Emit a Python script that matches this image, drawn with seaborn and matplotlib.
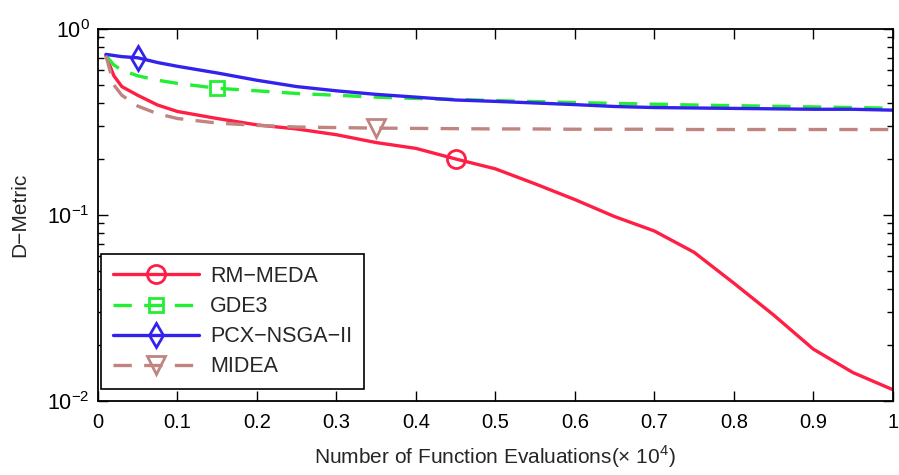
import matplotlib
matplotlib.use("Agg")
import matplotlib.pyplot as plt
from matplotlib.ticker import LogLocator, NullFormatter
import seaborn as sns

evals = [0.01, 0.02, 0.03, 0.05, 0.075, 0.1, 0.15, 0.2, 0.25, 0.3, 0.35, 0.4,
         0.45, 0.5, 0.55, 0.6, 0.65, 0.7, 0.75, 0.8, 0.85, 0.9, 0.95, 1.0]

rm_meda = [0.72, 0.56, 0.49, 0.44, 0.39, 0.36, 0.33, 0.305, 0.29, 0.27, 0.245, 0.228,
           0.20, 0.177, 0.147, 0.121, 0.098, 0.082, 0.063, 0.043, 0.029, 0.019, 0.0142, 0.0115]
gde3 = [0.72, 0.64, 0.60, 0.56, 0.53, 0.51, 0.48, 0.465, 0.45, 0.44, 0.43, 0.423,
        0.418, 0.412, 0.407, 0.402, 0.398, 0.394, 0.39, 0.387, 0.384, 0.381, 0.378, 0.375]
pcx_nsga2 = [0.73, 0.72, 0.71, 0.70, 0.66, 0.63, 0.58, 0.53, 0.49, 0.465, 0.445, 0.43,
             0.415, 0.408, 0.40, 0.392, 0.383, 0.378, 0.376, 0.374, 0.372, 0.37, 0.37, 0.366]
midea = [0.72, 0.50, 0.44, 0.385, 0.35, 0.33, 0.312, 0.303, 0.297, 0.295, 0.293, 0.292,
         0.291, 0.290, 0.290, 0.289, 0.289, 0.289, 0.288, 0.288, 0.288, 0.288, 0.288, 0.288]

sns.set_style("ticks")
plt.rcParams['font.family'] = ['Liberation Sans', 'DejaVu Sans']
plt.rcParams['mathtext.fontset'] = 'custom'
plt.rcParams['mathtext.rm'] = 'Liberation Sans'

fig = plt.figure(figsize=(8.99, 4.75), dpi=100)
ax = fig.add_axes([0.109, 0.156, 0.884, 0.783])

# marker shown once per curve, like the original
sns.lineplot(x=evals, y=rm_meda, ax=ax, color='#ff1f45', lw=2.4, label='RM\u2212MEDA',
             marker='o', markevery=[evals.index(0.45)], markersize=13, mew=2.0,
             mfc='none', mec='#ff1f45')
sns.lineplot(x=evals, y=gde3, ax=ax, color='#22ee33', lw=2.4, label='GDE3',
             marker='s', markevery=[evals.index(0.15)], markersize=10.5, mew=2.0,
             mfc='none', mec='#22ee33', dashes=(5.5, 3.7))
sns.lineplot(x=evals, y=pcx_nsga2, ax=ax, color='#3322ee', lw=2.4, label='PCX\u2212NSGA\u2212II',
             marker='d', markevery=[evals.index(0.05)], markersize=12.5, mew=2.0,
             mfc='none', mec='#3322ee')
sns.lineplot(x=evals, y=midea, ax=ax, color='#c08580', lw=2.4, label='MIDEA',
             marker='v', markevery=[evals.index(0.35)], markersize=12.5, mew=2.0,
             mfc='none', mec='#c08580', dashes=(5.5, 3.7))

ax.set_yscale('log')
ax.set_xlim(0, 1)
ax.set_ylim(1e-2, 1)
ax.set_xticks([i / 10 for i in range(11)])
ax.set_xticklabels(['0'] + ['%.1f' % (i / 10) for i in range(1, 10)] + ['1'])
ax.yaxis.set_minor_locator(LogLocator(base=10, subs=range(2, 10)))
ax.yaxis.set_minor_formatter(NullFormatter())

for s in ax.spines.values():
    s.set_visible(True)
    s.set_linewidth(1.3)
    s.set_color('black')
ax.tick_params(which='both', direction='in', top=True, right=True, labelsize=14.5,
               width=1.0, colors='black')
ax.tick_params(which='major', length=7)
ax.tick_params(which='minor', length=4)
ax.tick_params(axis='x', pad=9)
ax.tick_params(axis='y', pad=6, labelsize=15.5)

ax.set_xlabel('Number of Function Evaluations($\\times$ 10$^{4}$)', fontsize=15, labelpad=8)
ax.set_ylabel('D\u2212Metric', fontsize=15, labelpad=13)

leg = ax.legend(loc='lower left', bbox_to_anchor=(0.004, 0.032), borderaxespad=0,
                fontsize=15.5, handlelength=4.0, handletextpad=0.5, frameon=True,
                fancybox=False, labelspacing=0.42, borderpad=0.55)
leg.get_frame().set_edgecolor('black')
leg.get_frame().set_linewidth(1.2)
leg.get_frame().set_alpha(1)

fig.savefig('out.png', dpi=100)
